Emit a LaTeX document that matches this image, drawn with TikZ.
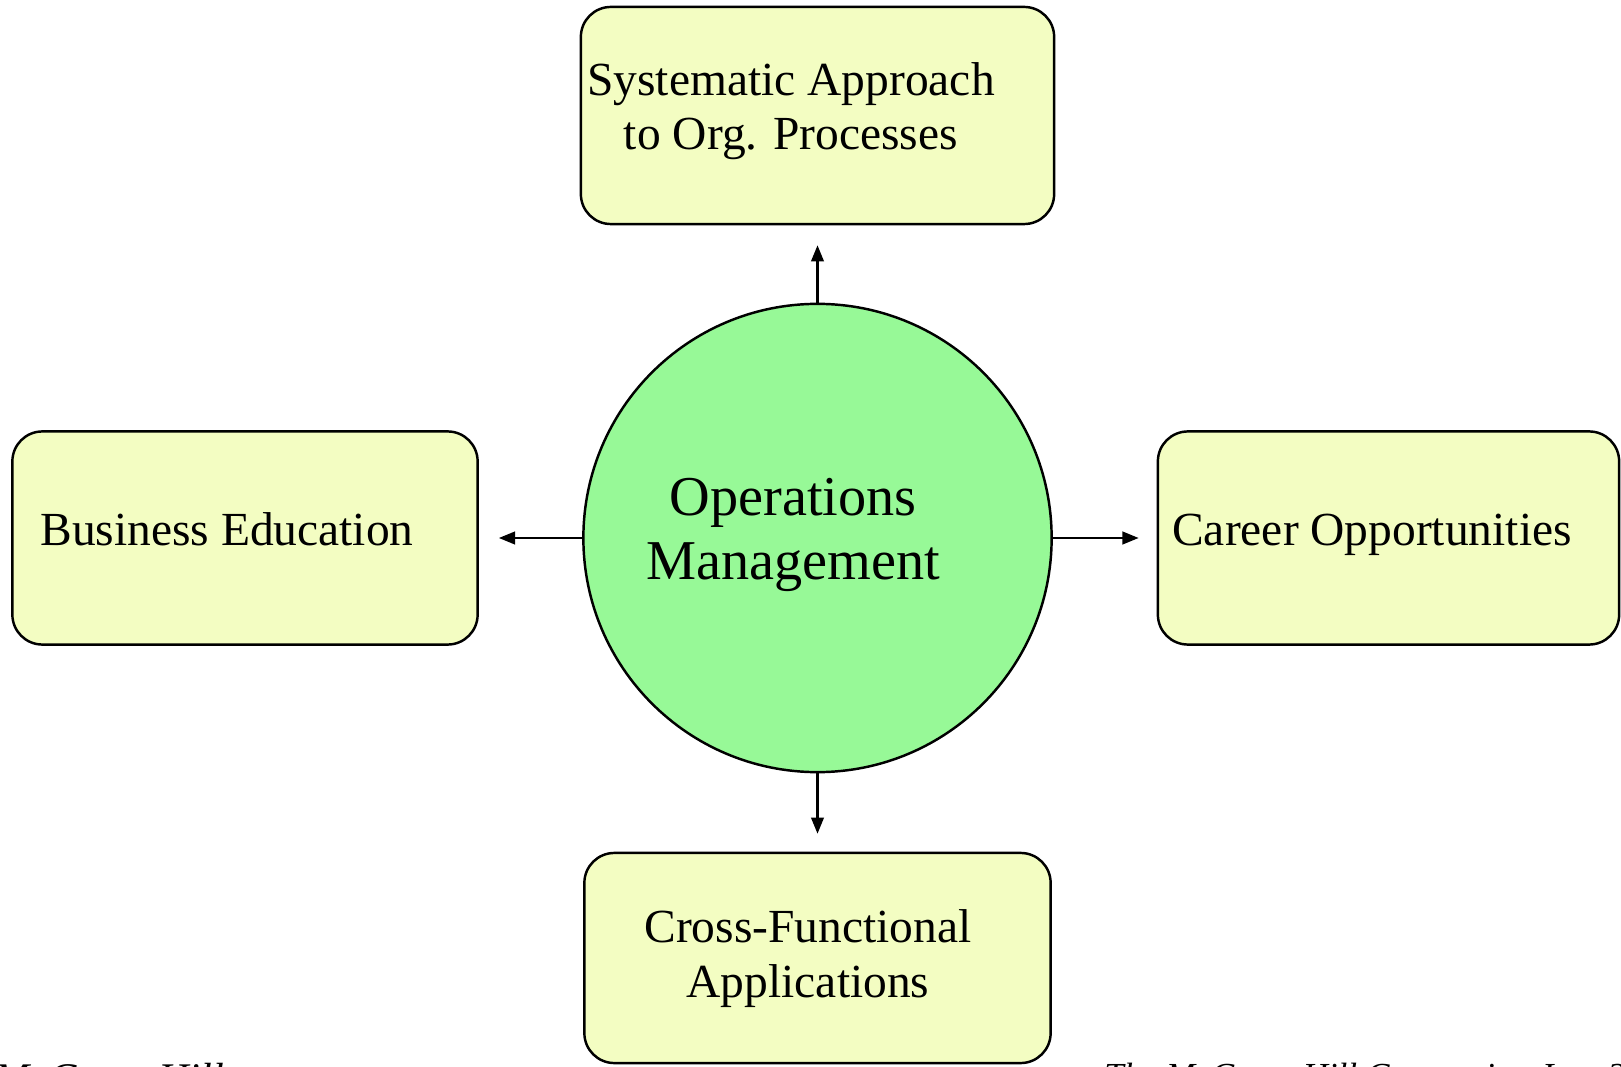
\documentclass[tikz,border=0pt]{standalone}
\usepackage{fontspec}
\setmainfont{Liberation Serif}
\usetikzlibrary{arrows.meta}
\definecolor{boxfill}{HTML}{F3FDC2}
\definecolor{omfill}{HTML}{97F997}

\begin{document}
\begin{tikzpicture}[x=0.01cm, y=-0.01cm, >={Triangle[length=4.6pt,width=3.6pt]}, line width=0.7pt]
\tikzset{
  box/.style={
    draw, rectangle, rounded corners=0.3cm,
    fill=boxfill, inner sep=0pt
  },
  lbl/.style={
    align=center, inner sep=0pt,
    font=\fontsize{13.5}{15.4}\selectfont
  },
  foot/.style={inner sep=0pt, anchor=base west}
}
\useasboundingbox (0,0) rectangle (1621,1067);
\clip (0,0) rectangle (1621,1067);

\node[draw, circle, fill=omfill, minimum size=4.68cm, inner sep=0pt] (om) at (817.5,538) {};
\node[box, minimum width=4.73cm, minimum height=2.17cm] (sys)   at (817.5,115.5) {};
\node[box, minimum width=4.65cm, minimum height=2.13cm] (bus)   at (245,538) {};
\node[box, minimum width=4.61cm, minimum height=2.13cm] (car)   at (1388.5,538) {};
\node[box, minimum width=4.66cm, minimum height=2.10cm] (cross) at (817.5,958) {};

\node[lbl] (sys-t) at (791,111) {Systematic Approach\\to Org. Processes};
\node[lbl, anchor=base] (bus-t) at (227,545) {Business Education};
\node[lbl, anchor=base] (car-t) at (1372,545) {Career Opportunities};
\node[lbl] (cross-t) at (808,958.5) {Cross-Functional\\Applications};
\node[lbl, font=\fontsize{16}{18.2}\selectfont] (om-t) at (793,535) {Operations\\Management};

\draw[->, line width=.6pt, shorten >=0.2cm] (om) -- (sys);
\draw[->, line width=.6pt, shorten >=0.2cm] (om) -- (bus);
\draw[->, line width=.6pt, shorten >=0.18cm] (om) -- (car);
\draw[->, line width=.6pt, shorten >=0.18cm] (om) -- (cross);

% footer, cut off by the page edge
\node[foot, font=\itshape\fontsize{12}{14}\selectfont] (mgh) at (-7,1092) {McGraw-Hill};
\node[foot, font=\itshape\fontsize{10}{12}\selectfont] (copy) at (1103,1087) {The McGraw-Hill Companies, Inc. 2};
\end{tikzpicture}
\end{document}
